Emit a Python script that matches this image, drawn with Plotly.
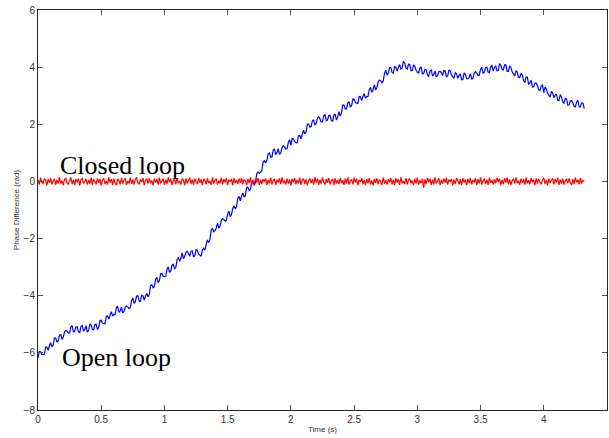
import numpy as np
import plotly.graph_objects as go

# Sampling interval of the recorded phase traces (s)
DT = 0.01

# Open-loop phase difference (rad), one value per sample
open_loop = [
    -6.18, -5.95, -5.96, -6.05, -6.05, -6.06, -5.80, -5.80, -5.91, -5.76, -5.64, -5.79, -5.74, -5.48, -5.49, -5.61, -5.58, -5.38, -5.36, -5.53,
    -5.45, -5.27, -5.21, -5.24, -5.30, -5.30, -5.10, -5.05, -5.27, -5.25, -5.09, -5.09, -5.26, -5.29, -5.08, -5.04, -5.24, -5.19, -5.05, -5.27,
    -5.22, -4.99, -5.03, -5.18, -5.19, -5.01, -5.00, -5.18, -5.11, -4.87, -4.86, -4.96, -4.97, -4.98, -4.72, -4.71, -4.82, -4.67, -4.56, -4.71,
    -4.66, -4.66, -4.41, -4.38, -4.58, -4.53, -4.39, -4.60, -4.55, -4.40, -4.36, -4.39, -4.45, -4.41, -4.17, -4.08, -4.27, -4.21, -4.01, -4.00,
    -4.17, -4.21, -3.98, -4.01, -4.15, -4.02, -3.92, -4.04, -3.96, -3.65, -3.62, -3.72, -3.68, -3.43, -3.36, -3.54, -3.48, -3.23, -3.22, -3.32,
    -3.33, -3.31, -3.08, -2.99, -3.18, -3.13, -2.93, -2.90, -3.05, -3.02, -2.74, -2.65, -2.80, -2.69, -2.50, -2.70, -2.63, -2.48, -2.45, -2.52,
    -2.62, -2.44, -2.43, -2.64, -2.60, -2.39, -2.41, -2.54, -2.58, -2.62, -2.39, -2.34, -2.40, -2.21, -2.05, -2.14, -2.03, -1.70, -1.65, -1.76,
    -1.72, -1.63, -1.46, -1.64, -1.56, -1.37, -1.30, -1.33, -1.39, -1.36, -1.13, -1.04, -1.23, -1.16, -0.95, -0.86, -0.95, -0.89, -0.59, -0.52,
    -0.68, -0.52, -0.40, -0.55, -0.49, -0.21, -0.21, -0.32, -0.28, -0.04, 0.02, -0.13, -0.04, 0.27, 0.33, 0.29, 0.32, 0.37, 0.67, 0.72,
    0.65, 0.74, 0.96, 1.00, 0.85, 0.85, 1.09, 1.14, 0.94, 1.01, 1.15, 0.95, 1.00, 1.19, 1.25, 1.21, 1.13, 1.15, 1.37, 1.46,
    1.26, 1.50, 1.49, 1.39, 1.36, 1.35, 1.60, 1.61, 1.49, 1.66, 1.79, 1.66, 1.72, 2.01, 2.01, 1.90, 1.92, 2.13, 2.15, 1.97,
    2.03, 2.21, 2.26, 2.19, 2.08, 2.09, 2.30, 2.35, 2.12, 2.15, 2.31, 2.31, 2.13, 2.11, 2.32, 2.36, 2.15, 2.26, 2.44, 2.29,
    2.39, 2.67, 2.67, 2.54, 2.54, 2.75, 2.78, 2.60, 2.65, 2.89, 2.88, 2.77, 2.74, 2.73, 2.97, 2.96, 2.83, 2.97, 3.07, 2.92,
    2.97, 2.98, 3.22, 3.29, 3.12, 3.21, 3.38, 3.20, 3.28, 3.48, 3.55, 3.52, 3.45, 3.51, 3.77, 3.89, 3.72, 3.78, 3.98, 3.99,
    3.82, 3.79, 4.02, 4.00, 3.86, 4.00, 4.09, 3.93, 3.97, 4.20, 4.14, 3.97, 3.93, 4.10, 4.09, 3.87, 3.88, 4.08, 4.03, 3.89,
    3.82, 3.80, 3.97, 4.01, 3.77, 3.78, 3.92, 3.91, 3.72, 3.68, 3.87, 3.90, 3.69, 3.74, 3.87, 3.66, 3.70, 3.84, 3.86, 3.80,
    3.70, 3.88, 3.87, 3.66, 3.69, 3.90, 3.86, 3.73, 3.67, 3.61, 3.81, 3.77, 3.61, 3.71, 3.76, 3.56, 3.56, 3.80, 3.75, 3.60,
    3.59, 3.64, 3.77, 3.57, 3.62, 3.79, 3.84, 3.80, 3.71, 3.72, 3.93, 4.00, 3.79, 3.82, 3.99, 4.00, 3.83, 3.81, 4.02, 4.06,
    3.86, 3.98, 4.05, 3.87, 3.88, 4.12, 4.07, 3.92, 3.90, 4.08, 4.08, 3.85, 3.85, 4.04, 3.99, 3.84, 3.76, 3.69, 3.88, 3.83,
    3.65, 3.64, 3.77, 3.74, 3.53, 3.47, 3.65, 3.65, 3.41, 3.44, 3.54, 3.30, 3.31, 3.44, 3.44, 3.35, 3.21, 3.18, 3.34, 3.37,
    3.11, 3.30, 3.24, 3.09, 3.01, 2.95, 3.15, 3.10, 2.93, 3.02, 3.06, 2.85, 2.83, 3.04, 2.96, 2.78, 2.74, 2.91, 2.89, 2.67,
    2.68, 2.82, 2.83, 2.75, 2.63, 2.61, 2.79, 2.84, 2.60, 2.61, 2.75, 2.74, 2.55,
]

# Closed-loop phase difference (rad), one value per sample
closed_loop = [
    0.06, -0.11, 0.13, -0.02, -0.09, 0.10, 0.04, -0.14, 0.08, -0.05, 0.12, -0.10, 0.01, 0.09, -0.12, 0.05, -0.07, 0.15, -0.08, 0.03,
    -0.13, 0.07, 0.11, -0.06, -0.10, 0.02, 0.14, -0.09, 0.05, -0.12, 0.08, -0.03, 0.10, -0.15, 0.06, 0.12, -0.07, -0.01, 0.09, -0.11,
    0.04, -0.08, 0.13, -0.12, 0.07, 0.00, -0.10, 0.11, -0.05, 0.09, -0.14, 0.06, 0.10, -0.09, 0.02, -0.11, 0.14, -0.04, 0.08, -0.12,
    0.10, -0.06, -0.13, 0.09, 0.03, -0.10, 0.12, -0.08, 0.05, 0.11, -0.12, 0.01, -0.07, 0.13, -0.09, 0.06, -0.11, 0.08, 0.14, -0.05,
    -0.10, 0.07, -0.02, 0.12, -0.13, 0.05, 0.09, -0.08, 0.11, -0.06, 0.03, -0.14, 0.10, -0.04, 0.08, -0.11, 0.13, -0.07, 0.02, 0.09,
    -0.12, 0.06, -0.09, 0.14, -0.03, 0.10, -0.13, 0.04, 0.08, -0.10, 0.12, -0.06, 0.01, -0.11, 0.09, 0.05, -0.14, 0.11, -0.07, 0.03,
    0.13, -0.08, 0.06, -0.12, 0.10, -0.02, -0.09, 0.12, -0.05, 0.07, -0.13, 0.09, 0.04, -0.10, 0.11, -0.06, 0.02, -0.12, 0.14, -0.08,
    0.05, 0.10, -0.11, 0.03, -0.07, 0.13, -0.10, 0.08, -0.04, 0.11, -0.12, 0.06, -0.01, 0.09, -0.14, 0.12, -0.06, 0.04, -0.09, 0.10,
    -0.05, 0.12, -0.10, 0.07, 0.01, -0.13, 0.09, -0.06, 0.14, -0.11, 0.04, -0.08, 0.10, -0.03, 0.12, -0.12, 0.06, -0.09, 0.08, -0.02,
    0.11, -0.13, 0.05, -0.07, 0.13, -0.10, 0.02, 0.09, -0.12, 0.06, -0.04, 0.11, -0.09, 0.14, -0.06, 0.03, -0.11, 0.10, -0.08, 0.07,
    -0.14, 0.09, -0.03, 0.12, -0.10, 0.05, -0.07, 0.13, -0.12, 0.04, 0.10, -0.09, 0.07, -0.13, 0.02, 0.11, -0.06, 0.08, -0.11, 0.14,
    -0.04, 0.10, -0.12, 0.06, -0.08, 0.13, -0.02, -0.11, 0.09, -0.05, 0.12, -0.10, 0.03, 0.08, -0.13, 0.11, -0.07, 0.05, -0.09, 0.12,
    -0.06, 0.04, -0.12, 0.10, -0.08, 0.14, -0.11, 0.02, 0.07, -0.10, 0.13, -0.04, 0.09, -0.13, 0.06, -0.02, 0.11, -0.09, 0.05, -0.12,
    0.08, -0.07, 0.12, -0.10, 0.03, -0.14, 0.10, -0.05, 0.11, -0.09, 0.06, 0.01, -0.12, 0.13, -0.08, 0.04, -0.11, 0.09, -0.03, 0.12,
    -0.10, 0.06, -0.13, 0.11, -0.04, 0.08, -0.12, 0.14, -0.07, 0.02, -0.09, 0.12, -0.11, 0.05, 0.10, -0.06, 0.03, -0.13, 0.09, -0.08,
    0.13, -0.11, 0.04, -0.06, 0.10, -0.22, 0.07, -0.09, 0.12, -0.03, 0.09, -0.12, 0.06, -0.10, 0.14, -0.07, 0.01, 0.11, -0.13, 0.05,
    -0.08, 0.10, -0.05, 0.13, -0.11, 0.07, -0.02, 0.09, -0.14, 0.06, -0.09, 0.12, 0.03, -0.10, 0.08, -0.12, 0.11, -0.04, 0.07, -0.13,
    0.09, -0.06, 0.12, -0.10, 0.05, -0.03, 0.11, -0.13, 0.08, -0.07, 0.14, -0.11, 0.02, 0.10, -0.09, 0.06, -0.12, 0.13, -0.05, 0.04,
    -0.11, 0.08, -0.07, 0.12, -0.02, 0.10, -0.13, 0.05, -0.09, 0.11, -0.04, 0.13, -0.10, 0.07, -0.12, 0.03, 0.09, -0.08, 0.14, -0.06,
    0.02, -0.12, 0.10, -0.05, 0.08, -0.11, 0.13, -0.07, 0.04, -0.10, 0.12, -0.03, 0.06, -0.13, 0.11, -0.08, 0.09, -0.02, -0.10, 0.07,
    0.12, -0.09, 0.05, -0.13, 0.10, -0.06, 0.03, 0.11, -0.10, 0.08, -0.04, 0.13, -0.12, 0.06, -0.08, 0.10, -0.11, 0.02, 0.09, -0.07,
    0.11, -0.05, -0.12, 0.08, -0.09, 0.13, -0.03, 0.06, -0.10, 0.12, -0.07, 0.04, 0.01,
]

time_s = np.arange(len(open_loop)) * DT

x_ticks = [0, 0.5, 1, 1.5, 2, 2.5, 3, 3.5, 4, 4.5]
x_tick_labels = ["0", "0.5", "1", "1.5", "2", "2.5", "3", "3.5", "4", "4.5"]
y_ticks = [-8, -6, -4, -2, 0, 2, 4, 6]

fig = go.Figure()
fig.add_trace(go.Scatter(x=time_s, y=open_loop, mode="lines",
                         line=dict(color="#0000ff", width=1.2, simplify=False),
                         showlegend=False))
fig.add_trace(go.Scatter(x=time_s, y=closed_loop, mode="lines",
                         line=dict(color="#ff0000", width=1.2, simplify=False),
                         showlegend=False))

axis_common = dict(
    showgrid=False, zeroline=False, showline=True, mirror="allticks",
    linecolor="#262626", linewidth=1, ticks="inside", ticklen=5,
    tickcolor="#555555", tickwidth=1,
    tickfont=dict(family="Liberation Sans, Arial, sans-serif", size=10, color="#333333"),
)

fig.update_xaxes(range=[0, 4.5], tickvals=x_ticks, ticktext=x_tick_labels,
                 title=dict(text="Time (s)", standoff=2,
                            font=dict(family="Liberation Sans, Arial, sans-serif", size=8, color="#333333")),
                 **axis_common)
fig.update_yaxes(range=[-8, 6], tickvals=y_ticks,
                 title=dict(text="Phase Difference (rad)", standoff=2,
                            font=dict(family="Liberation Sans, Arial, sans-serif", size=8, color="#333333")),
                 **axis_common)

label_font = dict(family="Liberation Serif, Times New Roman, serif", size=26, color="#000000")
fig.add_annotation(x=0.155, y=0.55, xref="x", yref="y", text="Closed loop",
                   showarrow=False, xanchor="left", yanchor="middle", font=label_font)
fig.add_annotation(x=0.175, y=-6.15, xref="x", yref="y", text="Open loop",
                   showarrow=False, xanchor="left", yanchor="middle", font=label_font)

fig.update_layout(
    width=609, height=438,
    margin=dict(l=38, r=2, t=10, b=28),
    paper_bgcolor="white", plot_bgcolor="white",
)

fig.write_html("out.html")
